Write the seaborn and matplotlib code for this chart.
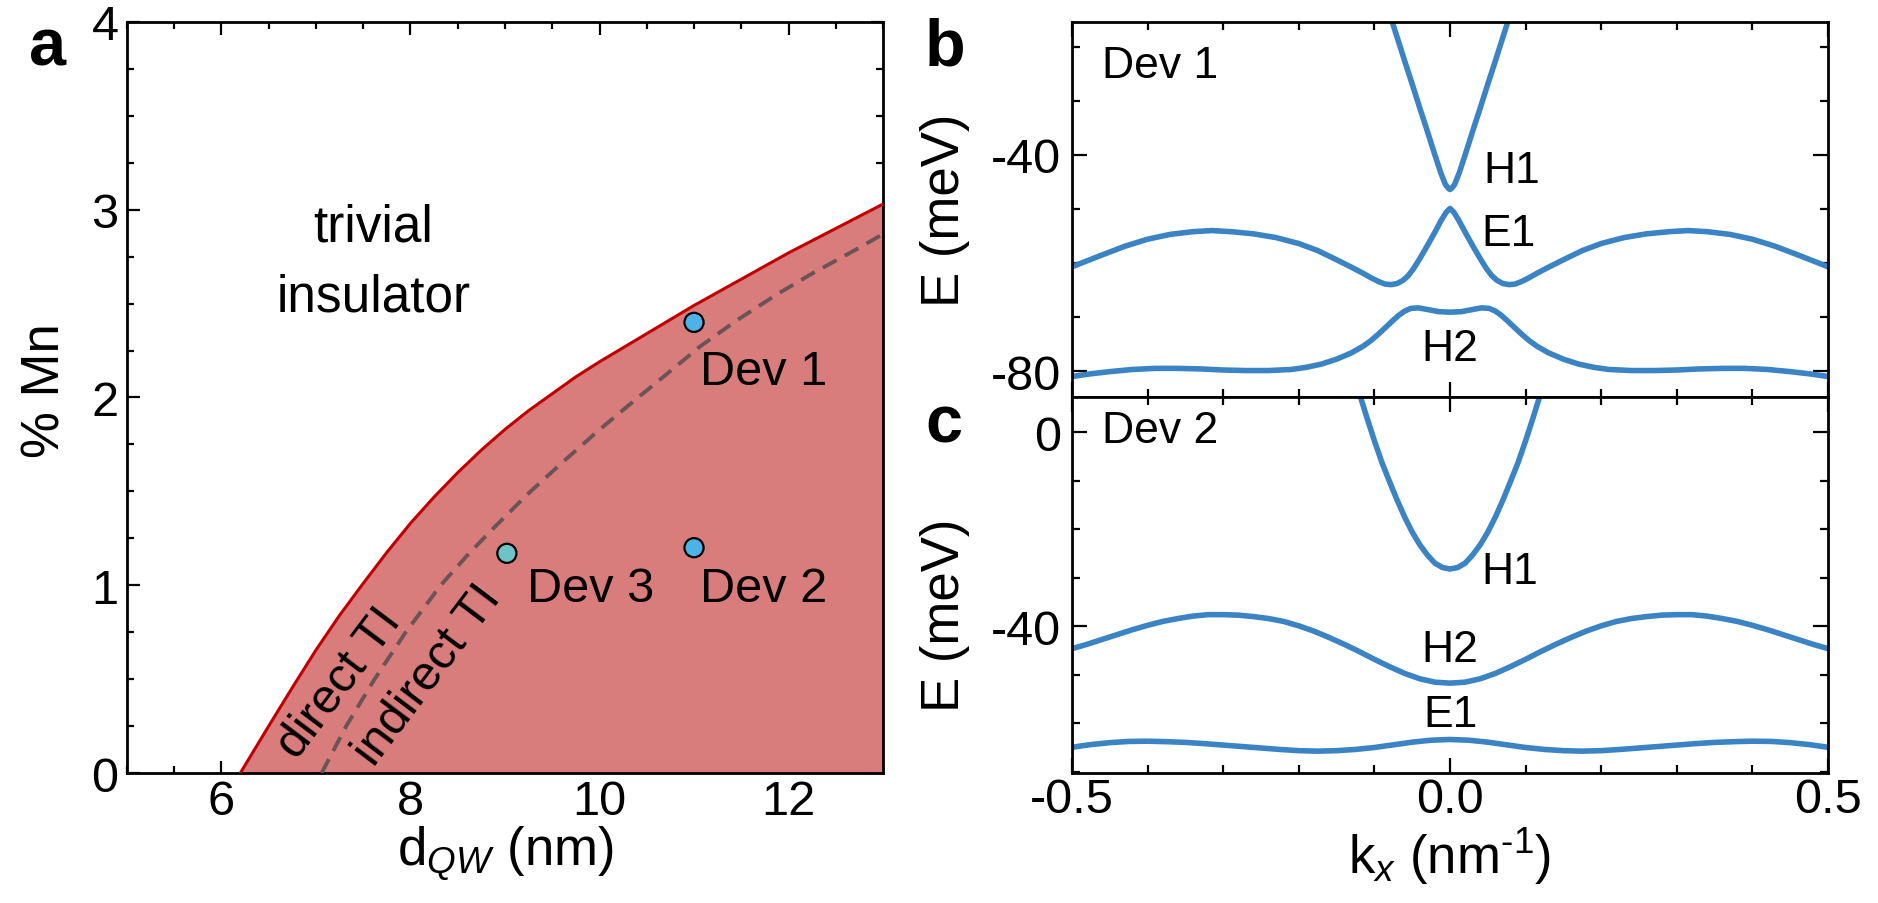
import numpy as np
import pandas as pd
import matplotlib
matplotlib.use("Agg")
import matplotlib.pyplot as plt
import seaborn as sns
from matplotlib.ticker import MultipleLocator, FormatStrFormatter

# ---------------- data ----------------
# Panel a: phase diagram boundaries
solid_d = [6.20, 6.35, 6.50, 6.75, 7.00, 7.25, 7.50, 7.75, 8.00, 8.25, 8.50, 8.75, 9.00,
           9.25, 9.50, 9.75, 10.00, 10.25, 10.50, 10.75, 11.00, 11.50, 12.00, 12.50, 13.00]
solid_mn = [0.000, 0.125, 0.250, 0.455, 0.655, 0.840, 1.010, 1.175, 1.330, 1.470, 1.600, 1.720, 1.830,
            1.930, 2.020, 2.110, 2.190, 2.265, 2.340, 2.415, 2.490, 2.630, 2.770, 2.900, 3.030]
dash_d = [7.06, 7.32, 7.62, 7.95, 8.32, 8.62, 8.91, 9.25, 9.62, 9.98, 10.36, 10.70, 11.06,
          11.45, 11.88, 12.25, 12.65, 13.00]
dash_mn = [0.00, 0.25, 0.50, 0.75, 1.00, 1.17, 1.32, 1.49, 1.66, 1.82, 1.98, 2.12, 2.27,
           2.41, 2.55, 2.66, 2.77, 2.87]
dev_names = ["Dev 1", "Dev 2", "Dev 3"]
dev_d = [11.0, 11.0, 9.02]
dev_mn = [2.40, 1.20, 1.17]

# Panel b: Dev 1 subbands
kb_H1 = [-0.080, -0.070, -0.060, -0.050, -0.040, -0.030, -0.020, -0.012, -0.006, -0.002, 0.0,
         0.002, 0.006, 0.012, 0.020, 0.030, 0.040, 0.050, 0.060, 0.070, 0.080]
Eb_H1 = [-13.8, -18.2, -22.6, -26.9, -31.3, -35.6, -40.0, -43.4, -45.5, -46.2, -46.4,
         -46.2, -45.5, -43.4, -40.0, -35.6, -31.3, -26.9, -22.6, -18.2, -13.8]
kb_E1 = [-0.50, -0.46, -0.43, -0.40, -0.37, -0.34, -0.315, -0.29, -0.26, -0.23, -0.20, -0.175,
         -0.15, -0.13, -0.115, -0.105, -0.095, -0.086, -0.078, -0.070, -0.062, -0.055, -0.048,
         -0.040, -0.030, -0.020, -0.012, -0.005, 0.0,
         0.005, 0.012, 0.020, 0.030, 0.040, 0.048, 0.055, 0.062, 0.070, 0.078, 0.086, 0.095,
         0.105, 0.115, 0.13, 0.15, 0.175, 0.20, 0.23, 0.26, 0.29, 0.315, 0.34, 0.37, 0.40,
         0.43, 0.46, 0.50]
Eb_E1 = [-60.7, -58.5, -56.9, -55.6, -54.7, -54.2, -54.0, -54.2, -54.6, -55.3, -56.4, -57.7,
         -59.4, -60.8, -61.9, -62.7, -63.4, -63.9, -64.0, -63.8, -63.2, -62.3, -61.0,
         -59.2, -56.8, -54.3, -52.2, -50.6, -49.9,
         -50.6, -52.2, -54.3, -56.8, -59.2, -61.0, -62.3, -63.2, -63.8, -64.0, -63.9, -63.4,
         -62.7, -61.9, -60.8, -59.4, -57.7, -56.4, -55.3, -54.6, -54.2, -54.0, -54.2, -54.7, -55.6,
         -56.9, -58.5, -60.7]
kb_H2 = [-0.50, -0.475, -0.45, -0.42, -0.39, -0.36, -0.33, -0.30, -0.27, -0.24, -0.21, -0.19,
         -0.17, -0.15, -0.13, -0.115, -0.105, -0.095, -0.085, -0.076, -0.068, -0.060, -0.052,
         -0.042, -0.030, -0.015, 0.0,
         0.015, 0.030, 0.042, 0.052, 0.060, 0.068, 0.076, 0.085, 0.095, 0.105, 0.115, 0.13,
         0.15, 0.17, 0.19, 0.21, 0.24, 0.27, 0.30, 0.33, 0.36, 0.39, 0.42, 0.45, 0.475, 0.50]
Eb_H2 = [-81.0, -80.5, -80.1, -79.7, -79.5, -79.5, -79.6, -79.8, -79.9, -79.9, -79.7, -79.3,
         -78.7, -77.8, -76.6, -75.4, -74.4, -73.2, -71.9, -70.7, -69.7, -68.9, -68.4,
         -68.3, -68.6, -69.0, -69.1,
         -69.0, -68.6, -68.3, -68.4, -68.9, -69.7, -70.7, -71.9, -73.2, -74.4, -75.4, -76.6,
         -77.8, -78.7, -79.3, -79.7, -79.9, -79.9, -79.8, -79.6, -79.5, -79.5, -79.7, -80.1, -80.5, -81.0]

# Panel c: Dev 2 subbands
kc_H1 = [-0.120, -0.115, -0.110, -0.100, -0.090, -0.080, -0.070, -0.060, -0.050, -0.040, -0.030,
         -0.020, -0.010, 0.0, 0.010, 0.020, 0.030, 0.040, 0.050, 0.060, 0.070, 0.080, 0.090,
         0.100, 0.110, 0.115, 0.120]
Ec_H1 = [8.0, 5.5, 3.0, -1.8, -6.3, -10.2, -14.0, -17.5, -20.6, -23.2, -25.3,
         -27.0, -27.9, -28.2, -27.9, -27.0, -25.3, -23.2, -20.6, -17.5, -14.0, -10.2, -6.3,
         -1.8, 3.0, 5.5, 8.0]
kc_H2 = [-0.50, -0.48, -0.46, -0.44, -0.42, -0.40, -0.38, -0.36, -0.34, -0.32, -0.30, -0.28,
         -0.26, -0.24, -0.22, -0.20, -0.18, -0.16, -0.14, -0.12, -0.10, -0.08, -0.06, -0.04,
         -0.02, 0.0, 0.02, 0.04, 0.06, 0.08, 0.10, 0.12, 0.14, 0.16, 0.18, 0.20, 0.22, 0.24,
         0.26, 0.28, 0.30, 0.32, 0.34, 0.36, 0.38, 0.40, 0.42, 0.44, 0.46, 0.48, 0.50]
Ec_H2 = [-44.6, -43.7, -42.7, -41.7, -40.7, -39.8, -39.0, -38.4, -37.9, -37.6, -37.6, -37.7,
         -38.0, -38.4, -39.0, -39.9, -41.0, -42.3, -43.7, -45.2, -46.8, -48.3, -49.7, -50.8,
         -51.5, -51.7, -51.5, -50.8, -49.7, -48.3, -46.8, -45.2, -43.7, -42.3, -41.0, -39.9, -39.0, -38.4,
         -38.0, -37.7, -37.6, -37.6, -37.9, -38.4, -39.0, -39.8, -40.7, -41.7, -42.7, -43.7, -44.6]
kc_E1 = [-0.50, -0.475, -0.45, -0.425, -0.40, -0.375, -0.35, -0.325, -0.30, -0.275, -0.25, -0.225,
         -0.20, -0.175, -0.15, -0.125, -0.10, -0.075, -0.05, -0.025, 0.0, 0.025, 0.05, 0.075,
         0.10, 0.125, 0.15, 0.175, 0.20, 0.225, 0.25, 0.275, 0.30, 0.325, 0.35, 0.375, 0.40,
         0.425, 0.45, 0.475, 0.50]
Ec_E1 = [-64.9, -64.35, -63.95, -63.7, -63.65, -63.75, -63.9, -64.15, -64.45, -64.75, -65.05, -65.35,
         -65.6, -65.7, -65.6, -65.35, -64.95, -64.4, -63.85, -63.45, -63.3, -63.45, -63.85, -64.4,
         -64.95, -65.35, -65.6, -65.7, -65.6, -65.35, -65.05, -64.75, -64.45, -64.15, -63.9, -63.75, -63.65,
         -63.7, -63.95, -64.35, -64.9]

# ---------------- style ----------------
sns.set_theme(style="ticks")
plt.rcParams.update({
    "font.family": ["Liberation Sans", "DejaVu Sans"],
    "mathtext.fontset": "custom",
    "mathtext.rm": "Liberation Sans",
    "mathtext.it": "Liberation Sans:italic",
    "mathtext.bf": "Liberation Sans:bold",
    "axes.unicode_minus": False,
    "axes.linewidth": 2.0,
    "axes.edgecolor": "black",
    "xtick.color": "black",
    "ytick.color": "black",
    "text.color": "black",
    "axes.labelcolor": "black",
})

FILL = "#d97c7c"
RED = "#c00000"
DASH = "#6b5456"
BLUE = "#3a83c4"
TICK_FS = 35
LABEL_FS = 38

fig = plt.figure(figsize=(18.78, 9.04), dpi=100)
ax_a = fig.add_axes([0.0676, 0.1438, 0.4026, 0.8308])
ax_b = fig.add_axes([0.5708, 0.5597, 0.4026, 0.4149])
ax_c = fig.add_axes([0.5708, 0.1438, 0.4026, 0.4159])

# ---------------- panel a ----------------
ax_a.fill_between(solid_d, 0, solid_mn, color=FILL, lw=0, zorder=1)
sns.lineplot(x=solid_d, y=solid_mn, ax=ax_a, color=RED, lw=2.2, sort=False,
             estimator=None, zorder=3)
sns.lineplot(x=dash_d, y=dash_mn, ax=ax_a, color=DASH, lw=2.8, sort=False,
             estimator=None, zorder=3)
ax_a.lines[-1].set_dashes([4.0, 2.4])
dev_df = pd.DataFrame({"d": dev_d, "mn": dev_mn, "dev": dev_names})
sns.scatterplot(data=dev_df, x="d", y="mn", hue="dev",
                palette={"Dev 1": "#4db3e6", "Dev 2": "#4db3e6", "Dev 3": "#6cc4c8"},
                s=190, edgecolor="black", linewidth=1.6, legend=False, ax=ax_a, zorder=5)

ax_a.set_xlim(5, 13)
ax_a.set_ylim(0, 4)
ax_a.xaxis.set_major_locator(MultipleLocator(2))
ax_a.xaxis.set_minor_locator(MultipleLocator(0.5))
ax_a.yaxis.set_major_locator(MultipleLocator(1))
ax_a.yaxis.set_minor_locator(MultipleLocator(0.25))
ax_a.tick_params(which="both", direction="in", top=True, right=True, width=1.6,
                 labelsize=TICK_FS)
ax_a.tick_params(which="major", length=9)
ax_a.tick_params(which="minor", length=5)
ax_a.tick_params(axis="x", pad=4)
ax_a.tick_params(axis="y", pad=6)
ax_a.set_xlabel("d$_{QW}$ (nm)", fontsize=LABEL_FS, labelpad=0)
ax_a.set_ylabel("% Mn", fontsize=LABEL_FS)
ax_a.yaxis.set_label_coords(-0.075, 0.51)

ax_a.text(7.61, 2.907, "trivial", fontsize=37, ha="center", va="center")
ax_a.text(7.61, 2.533, "insulator", fontsize=37, ha="center", va="center")
ax_a.text(7.254, 0.48, "direct TI", fontsize=35, rotation=53, ha="center", va="center",
          rotation_mode="anchor")
ax_a.text(8.19, 0.523, "indirect TI", fontsize=35, rotation=53, ha="center", va="center",
          rotation_mode="anchor")
ax_a.text(11.06, 2.07, "Dev 1", fontsize=35, ha="left", va="baseline")
ax_a.text(11.06, 0.917, "Dev 2", fontsize=35, ha="left", va="baseline")
ax_a.text(9.23, 0.914, "Dev 3", fontsize=35, ha="left", va="baseline")

# ---------------- panels b, c ----------------
for k, e in [(kb_H1, Eb_H1), (kb_E1, Eb_E1), (kb_H2, Eb_H2)]:
    sns.lineplot(x=k, y=e, ax=ax_b, color=BLUE, lw=4.0, sort=False, estimator=None)
for k, e in [(kc_H1, Ec_H1), (kc_H2, Ec_H2), (kc_E1, Ec_E1)]:
    sns.lineplot(x=k, y=e, ax=ax_c, color=BLUE, lw=4.0, sort=False, estimator=None)

ax_b.set_ylim(-84.8, -15.4)
ax_c.set_ylim(-70.2, 7.2)
for ax in (ax_b, ax_c):
    ax.set_xlim(-0.5, 0.5)
    ax.xaxis.set_major_locator(MultipleLocator(0.5))
    ax.xaxis.set_minor_locator(MultipleLocator(0.1))
    ax.yaxis.set_major_locator(MultipleLocator(40))
    ax.yaxis.set_minor_locator(MultipleLocator(10))
    ax.tick_params(which="both", direction="in", top=True, right=True, width=1.6,
                   labelsize=TICK_FS)
    ax.tick_params(which="major", length=11)
    ax.tick_params(which="minor", length=6)
    ax.tick_params(axis="y", pad=8)
    ax.tick_params(axis="x", pad=3)
    ax.set_ylabel("E (meV)", fontsize=LABEL_FS)
    ax.xaxis.set_major_formatter(FormatStrFormatter("%.1f"))
ax_b.tick_params(axis="x", labelbottom=False)
ax_b.set_xlabel("")
ax_b.yaxis.set_label_coords(-0.135, 0.5)
ax_c.yaxis.set_label_coords(-0.135, 0.423)
ax_c.set_xlabel(r"k$_x$ (nm$^{\text{-1}}$)", fontsize=LABEL_FS, labelpad=2)

ax_b.text(-0.46, -25.6, "Dev 1", fontsize=32, ha="left", va="baseline")
ax_b.text(0.044, -45.0, "H1", fontsize=32, ha="left", va="baseline")
ax_b.text(0.042, -56.7, "E1", fontsize=32, ha="left", va="baseline")
ax_b.text(0.0, -78.0, "H2", fontsize=32, ha="center", va="baseline")
ax_c.text(-0.46, -2.05, "Dev 2", fontsize=32, ha="left", va="baseline")
ax_c.text(0.042, -31.0, "H1", fontsize=32, ha="left", va="baseline")
ax_c.text(0.0, -47.2, "H2", fontsize=32, ha="center", va="baseline")
ax_c.text(0.0, -60.5, "E1", fontsize=32, ha="center", va="baseline")

# panel letters
fig.text(0.0154, 0.928, "a", fontsize=48, fontweight="bold", ha="left", va="baseline")
fig.text(0.4925, 0.928, "b", fontsize=48, fontweight="bold", ha="left", va="baseline")
fig.text(0.4925, 0.510, "c", fontsize=48, fontweight="bold", ha="left", va="baseline")

fig.savefig("out.png", dpi=100)
